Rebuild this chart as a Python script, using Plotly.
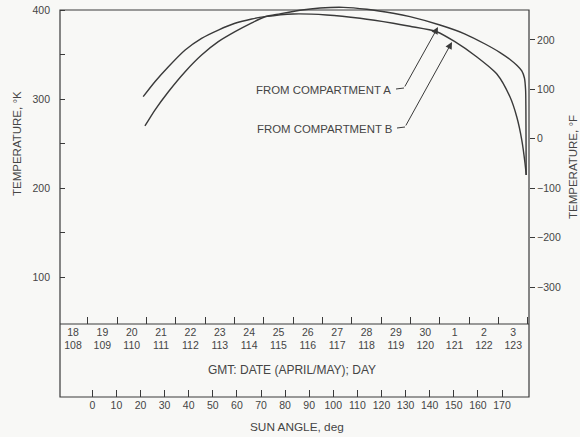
import plotly.graph_objects as go

# ---------------- data ----------------
# x: day of year (fractional, day n spans [n, n+1)), y: temperature in K
day_a = [110.95, 111.29, 111.75, 112.32, 112.88, 113.45, 114.02, 114.59, 115.04,
         115.55, 116.23, 116.92, 117.71, 118.51, 119.41, 119.98, 121.00, 121.86,
         122.54, 123.05, 123.39, 123.63, 123.79, 123.88, 123.92, 123.93, 123.94]
temp_a_k = [269.7, 287.6, 308.2, 330.7, 349.4, 364.4, 375.6, 385.5, 392.4,
            395.7, 399.7, 402.2, 403.0, 400.8, 396.3, 392.5, 383.1, 373.0,
            361.8, 352.2, 344.4, 337.6, 331.5, 323.6, 310.1, 287.6, 214.6]

day_b = [110.89, 111.29, 111.75, 112.32, 112.88, 113.45, 114.02, 114.59, 115.04,
         116.00, 117.14, 118.28, 119.41, 119.98, 120.89, 121.51, 122.25, 122.94,
         123.39, 123.62, 123.79, 123.90, 123.94]
temp_b_k = [302.6, 319.4, 336.3, 355.1, 368.2, 377.5, 385.1, 389.9, 392.5,
            395.5, 394.4, 390.7, 385.1, 381.7, 375.6, 364.4, 347.5, 328.1,
            302.2, 279.8, 253.9, 227.8, 214.6]

day_of_month = ["18", "19", "20", "21", "22", "23", "24", "25", "26", "27",
                "28", "29", "30", "1", "2", "3"]
day_of_year = [108, 109, 110, 111, 112, 113, 114, 115, 116, 117,
               118, 119, 120, 121, 122, 123]
sun_angle_ticks = [0, 10, 20, 30, 40, 50, 60, 70, 80, 90, 100, 110, 120,
                   130, 140, 150, 160, 170]
kelvin_ticks = [100, 150, 200, 250, 300, 350, 400]
kelvin_labels = ["100", "", "200", "", "300", "", "400"]
fahrenheit_ticks = [-300, -200, -100, 0, 100, 200]

# ---------------- layout geometry ----------------
W, H = 580, 437
ML, MR, MT, MB = 60, 51, 6, 40
PW, PH = W - ML - MR, H - MT - MB
X_TOP_FRAME = 10        # px of 400 K
Y_DATE_AXIS = 324       # px of date axis line
PX_PER_K = 0.89
PX_PER_DAY = 29.35
DAY109_PX = 87.7
SUN0_PX = 92.3
PX_PER_DEG = 2.41


def px2px_x(px):
    return (px - ML) / PW


def px2py(py):
    return (H - MB - py) / PH


k_top = 400 + (X_TOP_FRAME - MT) / PX_PER_K
k_bot = 400 - (Y_DATE_AXIS - X_TOP_FRAME) / PX_PER_K
f_top = k_top * 1.8 - 459.67
f_bot = k_bot * 1.8 - 459.67
d_left = 109 - (DAY109_PX - ML) / PX_PER_DAY
d_right = 109 + (ML + PW - DAY109_PX) / PX_PER_DAY
s_left = -(SUN0_PX - ML) / PX_PER_DEG
s_right = (ML + PW - SUN0_PX) / PX_PER_DEG

INK = "#3a3a3a"
TXT = "#454545"
BG = "#f8f8f6"
FONT = "Liberation Sans, Arial, sans-serif"

fig = go.Figure()
fig.add_trace(go.Scatter(x=day_a, y=temp_a_k, mode="lines", name="A",
                         line=dict(color=INK, width=1.4, shape="spline", smoothing=0.7),
                         showlegend=False, hoverinfo="skip"))
fig.add_trace(go.Scatter(x=day_b, y=temp_b_k, mode="lines", name="B",
                         line=dict(color=INK, width=1.4, shape="spline", smoothing=0.7),
                         showlegend=False, hoverinfo="skip"))
# carriers for the secondary axes
fig.add_trace(go.Scatter(x=[None], y=[None], xaxis="x2", yaxis="y",
                         showlegend=False, hoverinfo="skip"))
fig.add_trace(go.Scatter(x=[None], y=[None], xaxis="x", yaxis="y2",
                         showlegend=False, hoverinfo="skip"))

dom_bottom = px2py(Y_DATE_AXIS)
tick_font = dict(family=FONT, size=10.5, color=TXT)

fig.update_layout(
    width=W, height=H,
    margin=dict(l=ML, r=MR, t=MT, b=MB, pad=0, autoexpand=False),
    paper_bgcolor=BG, plot_bgcolor=BG,
    font=dict(family=FONT, size=11, color=TXT),
    showlegend=False,
    xaxis=dict(
        range=[d_left, d_right], domain=[0, 1], anchor="y", automargin=False,
        showgrid=False, zeroline=False, showline=False,
        tickmode="array",
        tickvals=[d + 0.5 for d in day_of_year],
        ticktext=[f"{m}<br>{d}" for m, d in zip(day_of_month, day_of_year)],
        ticks="", tickfont=tick_font,
        minor=dict(tick0=109, dtick=1, ticks="inside", ticklen=7,
                   tickcolor=INK, tickwidth=1, showgrid=False),
    ),
    xaxis2=dict(
        range=[s_left, s_right], overlaying="x", anchor="free", position=0,
        side="bottom", showgrid=False, zeroline=False, showline=False,
        automargin=False,
        tickmode="array", tickvals=sun_angle_ticks,
        ticks="inside", ticklen=7, tickcolor=INK, tickwidth=1,
        tickfont=tick_font,
    ),
    yaxis=dict(
        range=[k_bot, k_top], domain=[dom_bottom, 1], anchor="x", automargin=False,
        showgrid=False, zeroline=False, showline=False,
        tickmode="array", tickvals=kelvin_ticks, ticktext=kelvin_labels,
        ticks="inside", ticklen=5, tickcolor=INK, tickwidth=1,
        tickfont=tick_font, ticklabelstandoff=9,
    ),
    yaxis2=dict(
        range=[f_bot, f_top], overlaying="y", side="right", anchor="x",
        automargin=False,
        showgrid=False, zeroline=False, showline=False,
        tickmode="array", tickvals=fahrenheit_ticks,
        ticks="outside", ticklen=5, tickcolor=INK, tickwidth=1,
        tickfont=tick_font,
    ),
)

# frame
frame_top = px2py(X_TOP_FRAME)
fig.add_shape(type="rect", xref="paper", yref="paper", x0=0, x1=1, y0=0, y1=frame_top,
              line=dict(color=INK, width=1.2), layer="above")
fig.add_shape(type="line", xref="paper", yref="paper", x0=0, x1=1,
              y0=dom_bottom, y1=dom_bottom, line=dict(color=INK, width=1.2), layer="above")

# axis titles
fig.add_annotation(text="TEMPERATURE, °K", xref="paper", yref="paper",
                   x=px2px_x(17), y=px2py(144), textangle=-90, showarrow=False,
                   xanchor="center", yanchor="middle", font=dict(size=11.5))
fig.add_annotation(text="TEMPERATURE, °F", xref="paper", yref="paper",
                   x=px2px_x(573), y=px2py(167), textangle=-90, showarrow=False,
                   xanchor="center", yanchor="middle", font=dict(size=11.5))
fig.add_annotation(text="GMT: DATE (APRIL/MAY); DAY", xref="paper", yref="paper",
                   x=px2px_x(292), y=px2py(370), showarrow=False,
                   xanchor="center", yanchor="middle", font=dict(size=12))
fig.add_annotation(text="SUN ANGLE, deg", xref="paper", yref="paper",
                   x=px2px_x(297), y=px2py(427), showarrow=False,
                   xanchor="center", yanchor="middle", font=dict(size=11.8))


# callouts (positions in pixels converted to data coordinates)
def pd(px):
    return 109 + (px - DAY109_PX) / PX_PER_DAY


def pk(py):
    return 400 - (py - X_TOP_FRAME) / PX_PER_K


callouts = [
    ("FROM COMPARTMENT A", (393, 90), (396, 89), (404, 88), (438, 27)),
    ("FROM COMPARTMENT B", (394, 129), (397, 128), (405, 127), (452, 42)),
]
for label, tpos, d0, d1, tip in callouts:
    fig.add_annotation(text=label, x=pd(tpos[0]), y=pk(tpos[1]), xref="x", yref="y",
                       showarrow=False, xanchor="right", yanchor="middle",
                       font=dict(size=11.4))
    fig.add_shape(type="line", xref="x", yref="y", x0=pd(d0[0]), y0=pk(d0[1]),
                  x1=pd(d1[0]), y1=pk(d1[1]), line=dict(color=INK, width=1))
    fig.add_annotation(text="", x=pd(tip[0]), y=pk(tip[1]), xref="x", yref="y",
                       showarrow=True, arrowhead=2, arrowsize=1.4, arrowwidth=1,
                       arrowcolor=INK, ax=d1[0] - tip[0], ay=d1[1] - tip[1],
                       standoff=0)

fig.write_html(
    "out.html",
    config={"displayModeBar": False},
    post_script="document.body.style.margin='0px';"
                "document.body.style.overflow='hidden';"
                "document.body.style.background='" + BG + "';",
)
